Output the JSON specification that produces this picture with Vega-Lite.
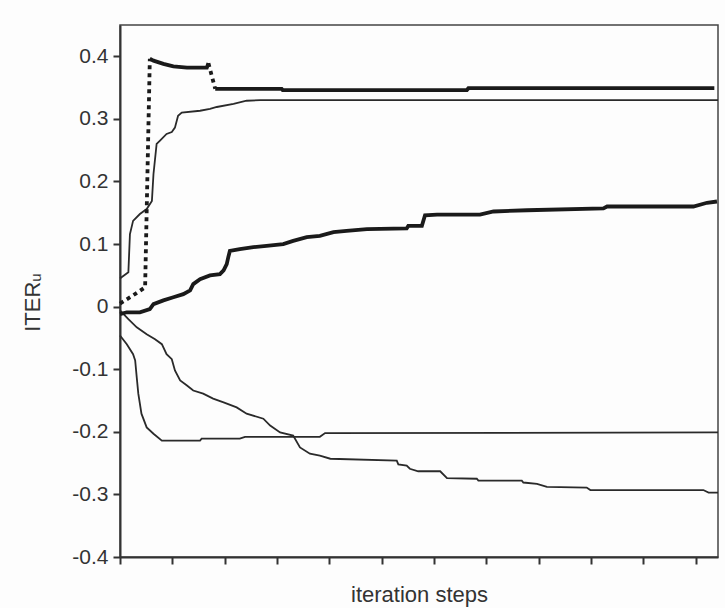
{
  "$schema": "https://vega.github.io/schema/vega-lite/v6.json",
  "autosize": {"type": "none"},
  "width": 598,
  "height": 532,
  "padding": {"left": 120, "top": 25, "right": 7, "bottom": 51},
  "background": "#fdfdfd",
  "config": {
    "view": {"stroke": "#444", "strokeWidth": 1.5},
    "font": "Liberation Sans"
  },
  "datasets": {
    "lines": [
      {"series": "A", "seg": "rise", "step": 0, "value": 0.005},
      {"series": "A", "seg": "rise", "step": 25, "value": 0.018},
      {"series": "A", "seg": "rise", "step": 48, "value": 0.031},
      {"series": "A", "seg": "rise", "step": 57, "value": 0.396},
      {"series": "A", "seg": "plateau", "step": 57, "value": 0.396},
      {"series": "A", "seg": "plateau", "step": 64, "value": 0.393},
      {"series": "A", "seg": "plateau", "step": 83, "value": 0.388},
      {"series": "A", "seg": "plateau", "step": 102, "value": 0.384},
      {"series": "A", "seg": "plateau", "step": 128, "value": 0.382},
      {"series": "A", "seg": "plateau", "step": 166, "value": 0.382},
      {"series": "A", "seg": "plateau", "step": 169, "value": 0.389},
      {"series": "A", "seg": "drop", "step": 169, "value": 0.389},
      {"series": "A", "seg": "drop", "step": 182, "value": 0.348},
      {"series": "A", "seg": "settle", "step": 182, "value": 0.348},
      {"series": "A", "seg": "settle", "step": 309, "value": 0.348},
      {"series": "A", "seg": "settle", "step": 311, "value": 0.346},
      {"series": "A", "seg": "settle", "step": 663, "value": 0.346},
      {"series": "A", "seg": "settle", "step": 666, "value": 0.349},
      {"series": "A", "seg": "settle", "step": 1136, "value": 0.349},

      {"series": "B", "seg": "all", "step": 0, "value": 0.045},
      {"series": "B", "seg": "all", "step": 3, "value": 0.047},
      {"series": "B", "seg": "all", "step": 16, "value": 0.055},
      {"series": "B", "seg": "all", "step": 19, "value": 0.116},
      {"series": "B", "seg": "all", "step": 25, "value": 0.137},
      {"series": "B", "seg": "all", "step": 38, "value": 0.148},
      {"series": "B", "seg": "all", "step": 51, "value": 0.156},
      {"series": "B", "seg": "all", "step": 61, "value": 0.169},
      {"series": "B", "seg": "all", "step": 64, "value": 0.212},
      {"series": "B", "seg": "all", "step": 70, "value": 0.26},
      {"series": "B", "seg": "all", "step": 76, "value": 0.265},
      {"series": "B", "seg": "all", "step": 89, "value": 0.276},
      {"series": "B", "seg": "all", "step": 99, "value": 0.279},
      {"series": "B", "seg": "all", "step": 105, "value": 0.286},
      {"series": "B", "seg": "all", "step": 111, "value": 0.305},
      {"series": "B", "seg": "all", "step": 118, "value": 0.31},
      {"series": "B", "seg": "all", "step": 153, "value": 0.313},
      {"series": "B", "seg": "all", "step": 172, "value": 0.316},
      {"series": "B", "seg": "all", "step": 185, "value": 0.319},
      {"series": "B", "seg": "all", "step": 217, "value": 0.324},
      {"series": "B", "seg": "all", "step": 242, "value": 0.329},
      {"series": "B", "seg": "all", "step": 268, "value": 0.33},
      {"series": "B", "seg": "all", "step": 1143, "value": 0.33},

      {"series": "C", "seg": "all", "step": 0, "value": -0.012},
      {"series": "C", "seg": "all", "step": 13, "value": -0.009},
      {"series": "C", "seg": "all", "step": 38, "value": -0.009},
      {"series": "C", "seg": "all", "step": 57, "value": -0.004},
      {"series": "C", "seg": "all", "step": 64, "value": 0.004},
      {"series": "C", "seg": "all", "step": 83, "value": 0.01},
      {"series": "C", "seg": "all", "step": 102, "value": 0.015},
      {"series": "C", "seg": "all", "step": 121, "value": 0.02},
      {"series": "C", "seg": "all", "step": 134, "value": 0.026},
      {"series": "C", "seg": "all", "step": 140, "value": 0.036},
      {"series": "C", "seg": "all", "step": 153, "value": 0.044},
      {"series": "C", "seg": "all", "step": 172, "value": 0.05},
      {"series": "C", "seg": "all", "step": 191, "value": 0.052},
      {"series": "C", "seg": "all", "step": 198, "value": 0.058},
      {"series": "C", "seg": "all", "step": 204, "value": 0.068},
      {"series": "C", "seg": "all", "step": 207, "value": 0.079},
      {"series": "C", "seg": "all", "step": 210, "value": 0.089},
      {"series": "C", "seg": "all", "step": 229, "value": 0.092},
      {"series": "C", "seg": "all", "step": 255, "value": 0.095},
      {"series": "C", "seg": "all", "step": 280, "value": 0.097},
      {"series": "C", "seg": "all", "step": 312, "value": 0.1},
      {"series": "C", "seg": "all", "step": 331, "value": 0.105},
      {"series": "C", "seg": "all", "step": 357, "value": 0.111},
      {"series": "C", "seg": "all", "step": 382, "value": 0.113},
      {"series": "C", "seg": "all", "step": 408, "value": 0.119},
      {"series": "C", "seg": "all", "step": 433, "value": 0.121},
      {"series": "C", "seg": "all", "step": 472, "value": 0.124},
      {"series": "C", "seg": "all", "step": 548, "value": 0.125},
      {"series": "C", "seg": "all", "step": 551, "value": 0.129},
      {"series": "C", "seg": "all", "step": 577, "value": 0.129},
      {"series": "C", "seg": "all", "step": 583, "value": 0.146},
      {"series": "C", "seg": "all", "step": 606, "value": 0.147},
      {"series": "C", "seg": "all", "step": 688, "value": 0.147},
      {"series": "C", "seg": "all", "step": 714, "value": 0.152},
      {"series": "C", "seg": "all", "step": 778, "value": 0.154},
      {"series": "C", "seg": "all", "step": 924, "value": 0.157},
      {"series": "C", "seg": "all", "step": 931, "value": 0.16},
      {"series": "C", "seg": "all", "step": 1096, "value": 0.16},
      {"series": "C", "seg": "all", "step": 1122, "value": 0.166},
      {"series": "C", "seg": "all", "step": 1141, "value": 0.168},

      {"series": "D", "seg": "all", "step": 0, "value": -0.046},
      {"series": "D", "seg": "all", "step": 13, "value": -0.06},
      {"series": "D", "seg": "all", "step": 25, "value": -0.076},
      {"series": "D", "seg": "all", "step": 29, "value": -0.086},
      {"series": "D", "seg": "all", "step": 32, "value": -0.113},
      {"series": "D", "seg": "all", "step": 35, "value": -0.139},
      {"series": "D", "seg": "all", "step": 41, "value": -0.171},
      {"series": "D", "seg": "all", "step": 51, "value": -0.193},
      {"series": "D", "seg": "all", "step": 64, "value": -0.203},
      {"series": "D", "seg": "all", "step": 80, "value": -0.214},
      {"series": "D", "seg": "all", "step": 153, "value": -0.214},
      {"series": "D", "seg": "all", "step": 156, "value": -0.211},
      {"series": "D", "seg": "all", "step": 229, "value": -0.211},
      {"series": "D", "seg": "all", "step": 239, "value": -0.208},
      {"series": "D", "seg": "all", "step": 382, "value": -0.208},
      {"series": "D", "seg": "all", "step": 392, "value": -0.202},
      {"series": "D", "seg": "all", "step": 1143, "value": -0.201},

      {"series": "E", "seg": "all", "step": 0, "value": -0.006},
      {"series": "E", "seg": "all", "step": 16, "value": -0.02},
      {"series": "E", "seg": "all", "step": 32, "value": -0.033},
      {"series": "E", "seg": "all", "step": 51, "value": -0.044},
      {"series": "E", "seg": "all", "step": 67, "value": -0.052},
      {"series": "E", "seg": "all", "step": 80, "value": -0.06},
      {"series": "E", "seg": "all", "step": 89, "value": -0.076},
      {"series": "E", "seg": "all", "step": 99, "value": -0.084},
      {"series": "E", "seg": "all", "step": 105, "value": -0.102},
      {"series": "E", "seg": "all", "step": 115, "value": -0.118},
      {"series": "E", "seg": "all", "step": 128, "value": -0.126},
      {"series": "E", "seg": "all", "step": 140, "value": -0.134},
      {"series": "E", "seg": "all", "step": 159, "value": -0.139},
      {"series": "E", "seg": "all", "step": 178, "value": -0.147},
      {"series": "E", "seg": "all", "step": 198, "value": -0.153},
      {"series": "E", "seg": "all", "step": 223, "value": -0.161},
      {"series": "E", "seg": "all", "step": 242, "value": -0.171},
      {"series": "E", "seg": "all", "step": 274, "value": -0.179},
      {"series": "E", "seg": "all", "step": 287, "value": -0.19},
      {"series": "E", "seg": "all", "step": 306, "value": -0.201},
      {"series": "E", "seg": "all", "step": 331, "value": -0.206},
      {"series": "E", "seg": "all", "step": 344, "value": -0.225},
      {"series": "E", "seg": "all", "step": 363, "value": -0.235},
      {"series": "E", "seg": "all", "step": 382, "value": -0.238},
      {"series": "E", "seg": "all", "step": 402, "value": -0.243},
      {"series": "E", "seg": "all", "step": 529, "value": -0.246},
      {"series": "E", "seg": "all", "step": 532, "value": -0.252},
      {"series": "E", "seg": "all", "step": 548, "value": -0.254},
      {"series": "E", "seg": "all", "step": 554, "value": -0.259},
      {"series": "E", "seg": "all", "step": 570, "value": -0.263},
      {"series": "E", "seg": "all", "step": 612, "value": -0.263},
      {"series": "E", "seg": "all", "step": 625, "value": -0.274},
      {"series": "E", "seg": "all", "step": 682, "value": -0.275},
      {"series": "E", "seg": "all", "step": 685, "value": -0.278},
      {"series": "E", "seg": "all", "step": 768, "value": -0.278},
      {"series": "E", "seg": "all", "step": 771, "value": -0.281},
      {"series": "E", "seg": "all", "step": 797, "value": -0.283},
      {"series": "E", "seg": "all", "step": 816, "value": -0.288},
      {"series": "E", "seg": "all", "step": 892, "value": -0.289},
      {"series": "E", "seg": "all", "step": 899, "value": -0.293},
      {"series": "E", "seg": "all", "step": 1115, "value": -0.293},
      {"series": "E", "seg": "all", "step": 1125, "value": -0.297},
      {"series": "E", "seg": "all", "step": 1143, "value": -0.297}
    ]
  },
  "data": {"name": "lines"},
  "encoding": {
    "x": {
      "field": "step",
      "type": "quantitative",
      "scale": {"domain": [0, 1143], "nice": false, "zero": false},
      "axis": {
        "title": "iteration steps",
        "values": [0, 100, 200, 300, 400, 500, 600, 700, 800, 900, 1000, 1100],
        "labels": false,
        "grid": false,
        "domainColor": "#333",
        "domainWidth": 2,
        "tickColor": "#333",
        "tickWidth": 2,
        "tickSize": 7,
        "titleFontSize": 22,
        "titleFontWeight": "normal",
        "titleColor": "#333",
        "titleBaseline": "alphabetic",
        "titleY": 44
      }
    },
    "y": {
      "field": "value",
      "type": "quantitative",
      "scale": {"domain": [-0.4, 0.45], "nice": false, "zero": false},
      "axis": {
        "title": "ITERᵤ",
        "values": [-0.4, -0.3, -0.2, -0.1, 0, 0.1, 0.2, 0.3, 0.4],
        "labelExpr": "'' + datum.value",
        "grid": false,
        "domainColor": "#333",
        "domainWidth": 2,
        "tickColor": "#333",
        "tickWidth": 2,
        "tickSize": 7,
        "labelFontSize": 21,
        "labelColor": "#333",
        "labelPadding": 5,
        "titleFontSize": 22,
        "titleFontWeight": "normal",
        "titleColor": "#333",
        "titleX": -76,
        "titleY": 277
      }
    },
    "detail": {"field": "series"}
  },
  "layer": [
    {
      "transform": [{"filter": "datum.series == 'B' || datum.series == 'D' || datum.series == 'E'"}],
      "mark": {"type": "line", "color": "#2a2a2a", "strokeWidth": 1.8, "interpolate": "linear"}
    },
    {
      "transform": [{"filter": "datum.series == 'C'"}],
      "mark": {"type": "line", "color": "#1a1a1a", "strokeWidth": 3.8}
    },
    {
      "transform": [{"filter": "datum.series == 'A' && (datum.seg == 'plateau' || datum.seg == 'settle')"}],
      "mark": {"type": "line", "color": "#1a1a1a", "strokeWidth": 3.8},
      "encoding": {"detail": {"field": "seg"}}
    },
    {
      "transform": [{"filter": "datum.series == 'A' && (datum.seg == 'rise' || datum.seg == 'drop')"}],
      "mark": {"type": "line", "color": "#1a1a1a", "strokeWidth": 3.8, "strokeDash": [4, 4]},
      "encoding": {"detail": {"field": "seg"}}
    }
  ]
}
